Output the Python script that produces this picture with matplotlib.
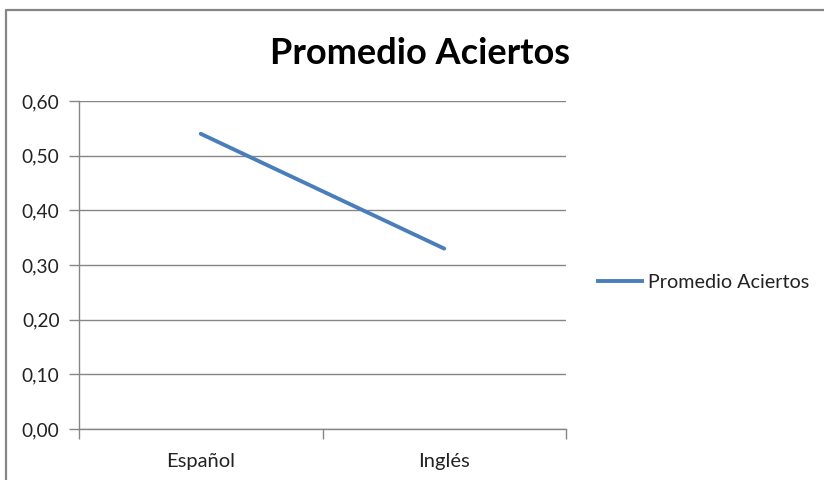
import matplotlib
matplotlib.use("Agg")
import matplotlib.pyplot as plt
from matplotlib.lines import Line2D

categories = ["Español", "Inglés"]
values = [0.54, 0.33]
series_name = "Promedio Aciertos"
title = "Promedio Aciertos"
yticks = [0.0, 0.1, 0.2, 0.3, 0.4, 0.5, 0.6]
ytick_labels = ["0,00", "0,10", "0,20", "0,30", "0,40", "0,50", "0,60"]

plt.rcParams['font.family'] = ['Lato', 'DejaVu Sans']

W, H = 824, 480
fig = plt.figure(figsize=(W / 100, H / 100), dpi=100)
fig.patch.set_facecolor("white")

ax = fig.add_axes([79 / W, 1 - 429 / H, (566 - 79) / W, (429 - 101) / H])

x = [0.5, 1.5]
ax.plot(x, values, color="#4a7ebb", lw=2.8, solid_capstyle="round", label=series_name)
ax.set_xlim(0, 2)
ax.set_ylim(0, 0.6)
ax.set_yticks(yticks)
ax.set_yticklabels(ytick_labels, fontsize=13.8, color="#222222")
ax.set_xticks([0, 1, 2])
ax.set_xticklabels([])
ax.set_xticks(x, minor=True)
ax.set_xticklabels(categories, minor=True, fontsize=14.5, color="#222222")
ax.tick_params(axis="x", which="minor", length=0, pad=17)
ax.tick_params(axis="x", which="major", length=7, color="#868686", width=1)
ax.tick_params(axis="y", length=7, color="#868686", width=1, pad=7)
ax.grid(axis="y", color="#868686", lw=1)
ax.set_axisbelow(True)
for s in ["top", "right"]:
    ax.spines[s].set_visible(False)
for s in ["left", "bottom"]:
    ax.spines[s].set_color("#868686")
    ax.spines[s].set_linewidth(1)

fig.text(420 / W, 1 - 53 / H, title, ha="center", va="center",
         fontsize=26, fontweight="bold", color="black")

leg = fig.legend(handles=[Line2D([], [], color="#4a7ebb", lw=2.8, label=series_name)],
                 loc="center left", bbox_to_anchor=(598 / W, 1 - 282 / H),
                 frameon=False, fontsize=14.2, handlelength=2.25, handletextpad=0.3,
                 borderaxespad=0, borderpad=0)
for t in leg.get_texts():
    t.set_color("#222222")

# chart border (left and top edges visible)
fig.add_artist(Line2D([6 / W, 6 / W, 1.0], [0.0, 1 - 10 / H, 1 - 10 / H],
                      transform=fig.transFigure, color="#868686", lw=1.6))

fig.savefig("out.png", dpi=100)
